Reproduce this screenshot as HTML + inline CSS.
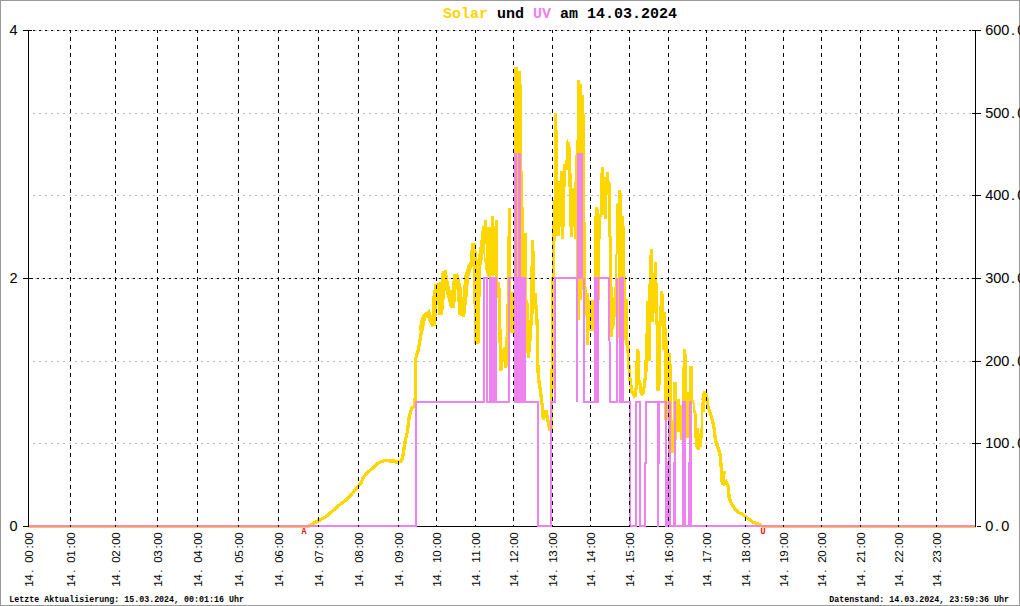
<!DOCTYPE html>
<html><head><meta charset="utf-8"><title>Solar und UV am 14.03.2024</title>
<style>html,body{margin:0;padding:0;background:#fff}body{width:1020px;height:606px;overflow:hidden;font-family:"Liberation Sans",sans-serif}svg{display:block}text{font-family:"Liberation Sans",sans-serif}.m{font-family:"Liberation Mono",monospace}</style>
</head><body>
<svg width="1020" height="606" viewBox="0 0 1020 606">
<rect x="0" y="0" width="1020" height="606" fill="#fff"/>
<g shape-rendering="crispEdges">
<rect x="0.5" y="0.5" width="1019" height="605" fill="none" stroke="#9a9a9a" stroke-width="1"/>
<line x1="28" x2="976" y1="526.5" y2="526.5" stroke="#000"/>
</g>
<g shape-rendering="crispEdges">
<line x1="33" x2="975" y1="113.5" y2="113.5" stroke="#b9b9b9" stroke-width="1" stroke-dasharray="2 4"/>
<line x1="33" x2="975" y1="195.5" y2="195.5" stroke="#b9b9b9" stroke-width="1" stroke-dasharray="2 4"/>
<line x1="33" x2="975" y1="361.5" y2="361.5" stroke="#b9b9b9" stroke-width="1" stroke-dasharray="2 4"/>
<line x1="33" x2="975" y1="443.5" y2="443.5" stroke="#b9b9b9" stroke-width="1" stroke-dasharray="2 4"/>
<line x1="35" x2="975" y1="30.5" y2="30.5" stroke="#c4c4c4" stroke-width="1" stroke-dasharray="2 4"/>
<line x1="35" x2="975" y1="278.5" y2="278.5" stroke="#c4c4c4" stroke-width="1" stroke-dasharray="2 4"/>
</g>
<g fill="none" stroke-linejoin="miter" stroke-miterlimit="2" shape-rendering="crispEdges">
<polyline points="28.0,526.5 308.0,526.5 311.0,525.0 315.0,522.5 320.0,520.0 325.8,516.7 331.7,511.7 338.3,505.8 345.0,500.8 351.7,494.0 356.7,488.3 360.8,483.3 363.3,477.5 366.7,473.3 371.7,469.0 376.7,464.0 380.8,461.7 385.8,460.5 390.0,461.0 394.0,461.0 396.7,462.5 399.0,461.7 401.7,460.8 403.3,453.3 405.0,441.7 406.7,435.0 407.5,431.0 409.2,416.7 411.7,408.3 414.2,406.7 415.8,393.3 415.8,358.3 418.3,350.0 420.0,340.0 421.7,330.0" stroke="#ffd700" stroke-width="3.3"/>
<polyline points="421.2,331.0 422.5,322.0 424.2,316.7 428.3,313.3 430.8,320.0 433.5,325.8 435.0,296.7 436.7,285.8 439.0,285.0 440.5,315.0 442.0,300.0 444.2,270.8 446.7,285.0 449.2,295.0 452.5,307.5 454.0,290.0 455.8,274.0 459.0,287.0 460.8,313.0 463.0,314.0 465.0,296.7 466.7,276.7 470.0,265.8 472.5,262.0 473.3,243.3 475.0,262.0 477.0,344.0 478.7,266.7 481.7,250.0 483.5,236.0 484.5,226.0" stroke="#ffd700" stroke-width="5"/>
<polyline points="498.5,282.0 499.0,290.0 500.8,370.8 503.0,352.0 505.0,348.0 505.8,368.0 507.5,330.0 508.5,290.0 509.5,209.0" stroke="#ffd700" stroke-width="3.3"/>
<polyline points="526.8,300.0 527.5,331.0 528.3,357.5 530.0,340.0 531.5,315.0 532.5,241.0" stroke="#ffd700" stroke-width="3.3"/>
<polyline points="535.0,293.0 536.7,316.7 537.5,331.0 537.5,355.0 538.3,376.7 540.8,393.3 542.5,408.3 543.3,420.0 545.8,410.0 547.5,418.3 549.2,426.7 550.0,431.0 551.0,428.0 551.7,400.0 552.5,346.7 553.3,263.0 554.0,235.0 554.6,200.0" stroke="#ffd700" stroke-width="3.3"/>
<polyline points="627.5,340.0 628.5,360.0 630.0,380.0 632.0,392.0 635.0,397.0 636.5,385.0 637.5,350.0" stroke="#ffd700" stroke-width="3.3"/>
<polyline points="639.5,380.0 641.0,392.0 642.6,395.0 644.5,385.0 646.0,370.0 646.5,340.0" stroke="#ffd700" stroke-width="3.3"/>
<polyline points="702.7,400.0 703.5,396.0 704.6,391.5 706.6,396.0 708.0,407.0 710.6,414.0 712.6,421.0 714.0,428.0 715.6,441.0 718.0,448.0 720.0,454.0 721.0,465.0 721.7,475.0 721.5,481.7 724.2,470.8 722.8,485.0 725.8,481.7 728.3,486.7 729.2,498.3 731.7,504.0 735.0,509.0 738.3,512.5 742.5,514.0 745.0,516.3 750.0,520.0 753.3,522.5 756.7,523.3 760.0,525.0 762.0,526.5 976.0,526.5" stroke="#ffd700" stroke-width="3.3"/>
<path d="M484.0 220.0H485.0V262.0H484.0ZM485.0 220.0H486.0V244.0H485.0ZM485.0 258.0H486.0V270.0H485.0ZM486.0 220.0H487.0V274.0H486.0ZM487.0 227.0H488.0V276.0H487.0ZM488.0 227.0H491.0V277.0H488.0ZM491.0 216.0H494.0V276.0H491.0ZM494.0 226.0H495.0V275.0H494.0ZM495.0 220.0H498.0V282.0H495.0ZM508.0 208.0H511.0V292.0H508.0ZM507.0 240.0H508.0V340.0H507.0ZM510.2 292.0H513.7V333.0H510.2ZM514.0 67.0H518.0V300.0H514.0ZM518.0 71.0H521.0V300.0H518.0ZM521.0 84.0H522.0V300.0H521.0ZM522.0 171.0H523.0V300.0H522.0ZM523.0 207.0H524.0V300.0H523.0ZM524.0 233.0H527.0V314.0H524.0ZM531.2 240.0H534.0V314.0H531.2ZM534.0 251.0H535.0V300.0H534.0ZM554.0 113.0H557.0V236.0H554.0ZM557.0 130.0H558.0V236.0H557.0ZM558.0 181.0H559.6V236.0H558.0ZM559.6 171.0H561.0V227.0H559.6ZM561.0 171.0H563.0V238.6H561.0ZM563.0 164.0H563.6V238.6H563.0ZM563.6 164.0H565.0V227.0H563.6ZM565.0 160.0H566.0V187.0H565.0ZM566.0 141.0H567.0V170.0H566.0ZM567.0 139.0H568.0V170.0H567.0ZM568.0 142.0H569.0V187.0H568.0ZM569.0 142.0H570.0V227.0H569.0ZM570.0 147.0H571.0V236.6H570.0ZM571.0 173.0H572.0V236.6H571.0ZM572.0 187.7H573.0V236.6H572.0ZM573.0 187.7H574.0V227.0H573.0ZM574.0 182.0H575.0V238.6H574.0ZM575.0 155.0H576.0V238.6H575.0ZM576.0 140.0H577.0V278.0H576.0ZM577.0 80.0H580.0V320.0H577.0ZM580.0 84.0H582.0V300.0H580.0ZM582.0 95.0H584.0V290.0H582.0ZM584.0 114.0H585.0V300.0H584.0ZM585.0 222.0H586.0V300.0H585.0ZM585.0 287.0H587.0V304.0H585.0ZM585.0 293.0H589.0V316.0H585.0ZM586.0 304.0H591.0V331.0H586.0ZM589.0 300.0H594.0V331.0H589.0ZM586.0 331.0H589.0V345.0H586.0ZM594.2 216.0H595.2V334.0H594.2ZM595.2 207.0H598.2V334.0H595.2ZM598.2 209.0H599.2V334.0H598.2ZM599.2 214.0H600.2V300.0H599.2ZM600.2 173.0H601.2V239.0H600.2ZM601.2 167.0H602.2V217.0H601.2ZM602.2 167.0H604.2V214.5H602.2ZM604.2 177.0H606.0V219.0H604.2ZM606.0 172.0H606.8V219.0H606.0ZM606.8 172.0H608.0V195.0H606.8ZM608.0 172.0H609.0V236.6H608.0ZM609.0 181.0H610.0V236.6H609.0ZM610.0 183.0H611.0V337.0H610.0ZM609.3 236.0H611.8V337.0H609.3ZM611.8 287.0H612.8V337.0H611.8ZM612.8 296.5H614.0V328.8H612.8ZM614.0 287.0H615.0V326.0H614.0ZM615.0 253.7H615.8V317.0H615.0ZM616.0 203.8H617.3V338.0H616.0ZM617.3 203.0H618.3V253.7H617.3ZM618.3 190.0H620.8V338.0H618.3ZM617.8 278.0H618.8V338.0H617.8ZM620.8 193.0H621.8V338.0H620.8ZM621.8 216.4H623.8V338.0H621.8ZM623.8 226.0H625.0V340.0H623.8ZM625.0 276.0H626.0V345.0H625.0ZM626.0 299.0H628.0V353.0H626.0ZM636.0 349.0H639.0V385.0H636.0ZM639.0 351.0H640.0V390.0H639.0ZM645.0 333.0H646.0V372.0H645.0ZM646.0 301.0H648.0V372.0H646.0ZM648.0 284.0H649.0V361.0H648.0ZM649.0 255.0H650.0V361.0H649.0ZM650.0 249.0H651.2V361.0H650.0ZM651.2 249.0H653.0V322.0H651.2ZM653.0 272.8H654.0V322.0H653.0ZM654.0 262.0H655.0V313.0H654.0ZM655.0 262.0H656.0V325.0H655.0ZM656.0 262.0H657.0V391.0H656.0ZM657.0 283.0H658.0V391.0H657.0ZM658.0 321.0H659.3V391.0H658.0ZM659.3 306.0H660.0V391.0H659.3ZM660.0 291.0H660.8V385.0H660.0ZM660.8 291.0H662.3V326.0H660.8ZM662.3 291.0H662.8V350.0H662.3ZM662.8 294.3H664.0V350.0H662.8ZM664.0 312.0H665.7V420.0H664.0ZM665.7 328.0H667.0V420.0H665.7ZM667.0 340.0H668.3V420.0H667.0ZM668.3 353.0H671.0V453.0H668.3ZM671.0 364.0H672.0V453.0H671.0ZM672.0 420.0H674.0V452.7H672.0ZM673.4 382.0H677.0V440.0H673.4ZM677.0 399.0H680.0V432.0H677.0ZM680.0 405.0H681.5V440.0H680.0ZM681.5 381.0H682.4V440.0H681.5ZM682.4 367.0H683.0V440.0H682.4ZM683.0 349.0H686.0V437.6H683.0ZM686.0 354.0H687.0V437.6H686.0ZM687.0 391.7H689.0V437.6H687.0ZM689.0 366.0H692.5V404.0H689.0ZM692.5 400.0H694.0V413.0H692.5ZM694.0 403.0H695.0V438.0H694.0ZM695.0 410.0H696.0V446.6H695.0ZM696.0 413.0H697.0V449.0H696.0ZM697.0 428.0H699.0V449.6H697.0ZM699.0 433.0H700.0V449.6H699.0ZM700.0 428.0H701.0V446.6H700.0ZM701.0 402.0H702.0V446.6H701.0ZM702.0 395.0H703.0V438.0H702.0ZM703.0 392.0H706.0V402.0H703.0ZM702.0 396.0H705.0V412.0H702.0Z" fill="#ffd700" stroke="none"/>
</g>
<g shape-rendering="crispEdges">
<line x1="33" x2="975" y1="30.5" y2="30.5" stroke="#000" stroke-width="1" stroke-dasharray="2 4"/>
<line x1="37" x2="975" y1="278.5" y2="278.5" stroke="#000" stroke-width="1" stroke-dasharray="2 4"/>
</g>
<g fill="none" stroke-linejoin="miter" stroke-miterlimit="2" shape-rendering="crispEdges">
<polyline points="28.0,526.0 416.0,526.0 416.0,402.0 484.0,402.0 484.0,278.0 487.0,278.0 487.0,402.0 489.0,402.0" stroke="#ee82ee" stroke-width="2"/>
<polyline points="497.0,402.0 509.0,402.0 509.0,278.0 514.0,278.0" stroke="#ee82ee" stroke-width="2"/>
<polyline points="526.0,402.0 538.0,402.0 538.0,526.0 551.0,526.0 551.0,402.0 555.0,402.0 555.0,278.0 577.0,278.0" stroke="#ee82ee" stroke-width="2"/>
<polyline points="577.0,278.0 577.0,402.0" stroke="#ee82ee" stroke-width="2"/>
<polyline points="584.0,278.0 584.0,402.0 594.2,402.0" stroke="#ee82ee" stroke-width="2"/>
<polyline points="599.0,278.0 609.0,278.0 610.0,402.0 617.0,402.0 617.0,278.0" stroke="#ee82ee" stroke-width="2"/>
<polyline points="624.0,402.0 630.0,402.0 630.0,526.0 636.3,526.0 636.3,402.0 640.3,402.0 640.3,526.0 645.0,526.0 645.0,463.0 646.2,463.0 646.2,402.0 658.5,402.0" stroke="#ee82ee" stroke-width="2"/>
<polyline points="659.5,402.0 666.0,402.0" stroke="#ee82ee" stroke-width="2"/>
<polyline points="671.0,526.0 674.0,526.0" stroke="#ee82ee" stroke-width="2"/>
<polyline points="675.4,526.0 682.0,526.0" stroke="#ee82ee" stroke-width="2"/>
<polyline points="686.0,526.0 688.5,526.0" stroke="#ee82ee" stroke-width="2"/>
<polyline points="691.5,526.0 976.0,526.0" stroke="#ee82ee" stroke-width="2"/>
<path d="M489.0 277.0H497.0V403.0H489.0ZM514.0 153.0H517.0V403.0H514.0ZM518.0 153.0H521.0V403.0H518.0ZM517.0 277.0H518.0V403.0H517.0ZM521.0 277.0H526.0V403.0H521.0ZM577.0 153.0H583.0V279.0H577.0ZM594.2 277.0H599.0V403.0H594.2ZM618.8 277.0H624.0V403.0H618.8ZM657.0 401.0H660.0V464.0H657.0ZM657.0 462.0H659.0V527.0H657.0ZM665.0 401.0H667.0V464.0H665.0ZM665.0 462.0H668.0V527.0H665.0ZM668.0 401.0H671.0V527.0H668.0ZM674.0 401.0H676.0V464.0H674.0ZM673.0 462.0H675.6V527.0H673.0ZM682.0 401.0H686.0V527.0H682.0ZM689.0 401.0H692.0V464.0H689.0ZM688.3 462.0H691.5V527.0H688.3Z" fill="#ee82ee" stroke="none"/>
</g>
<g shape-rendering="crispEdges">
<line x1="70.5" x2="70.5" y1="30" y2="33" stroke="#000" stroke-width="1"/>
<line x1="70.5" x2="70.5" y1="37" y2="527" stroke="#000" stroke-width="1" stroke-dasharray="4 4"/>
<line x1="115.5" x2="115.5" y1="30" y2="33" stroke="#000" stroke-width="1"/>
<line x1="115.5" x2="115.5" y1="37" y2="527" stroke="#000" stroke-width="1" stroke-dasharray="4 4"/>
<line x1="157.5" x2="157.5" y1="30" y2="33" stroke="#000" stroke-width="1"/>
<line x1="157.5" x2="157.5" y1="37" y2="527" stroke="#000" stroke-width="1" stroke-dasharray="4 4"/>
<line x1="197.5" x2="197.5" y1="30" y2="33" stroke="#000" stroke-width="1"/>
<line x1="197.5" x2="197.5" y1="37" y2="527" stroke="#000" stroke-width="1" stroke-dasharray="4 4"/>
<line x1="238.5" x2="238.5" y1="30" y2="33" stroke="#000" stroke-width="1"/>
<line x1="238.5" x2="238.5" y1="37" y2="527" stroke="#000" stroke-width="1" stroke-dasharray="4 4"/>
<line x1="278.5" x2="278.5" y1="30" y2="33" stroke="#000" stroke-width="1"/>
<line x1="278.5" x2="278.5" y1="37" y2="527" stroke="#000" stroke-width="1" stroke-dasharray="4 4"/>
<line x1="318.5" x2="318.5" y1="30" y2="33" stroke="#000" stroke-width="1"/>
<line x1="318.5" x2="318.5" y1="37" y2="527" stroke="#000" stroke-width="1" stroke-dasharray="4 4"/>
<line x1="358.5" x2="358.5" y1="30" y2="33" stroke="#000" stroke-width="1"/>
<line x1="358.5" x2="358.5" y1="37" y2="527" stroke="#000" stroke-width="1" stroke-dasharray="4 4"/>
<line x1="398.5" x2="398.5" y1="30" y2="33" stroke="#000" stroke-width="1"/>
<line x1="398.5" x2="398.5" y1="37" y2="527" stroke="#000" stroke-width="1" stroke-dasharray="4 4"/>
<line x1="436.5" x2="436.5" y1="30" y2="33" stroke="#000" stroke-width="1"/>
<line x1="436.5" x2="436.5" y1="37" y2="527" stroke="#000" stroke-width="1" stroke-dasharray="4 4"/>
<line x1="475.5" x2="475.5" y1="30" y2="33" stroke="#000" stroke-width="1"/>
<line x1="475.5" x2="475.5" y1="37" y2="527" stroke="#000" stroke-width="1" stroke-dasharray="4 4"/>
<line x1="513.5" x2="513.5" y1="30" y2="33" stroke="#000" stroke-width="1"/>
<line x1="513.5" x2="513.5" y1="37" y2="527" stroke="#000" stroke-width="1" stroke-dasharray="4 4"/>
<line x1="552.5" x2="552.5" y1="30" y2="33" stroke="#000" stroke-width="1"/>
<line x1="552.5" x2="552.5" y1="37" y2="527" stroke="#000" stroke-width="1" stroke-dasharray="4 4"/>
<line x1="590.5" x2="590.5" y1="30" y2="33" stroke="#000" stroke-width="1"/>
<line x1="590.5" x2="590.5" y1="37" y2="527" stroke="#000" stroke-width="1" stroke-dasharray="4 4"/>
<line x1="629.5" x2="629.5" y1="30" y2="33" stroke="#000" stroke-width="1"/>
<line x1="629.5" x2="629.5" y1="37" y2="527" stroke="#000" stroke-width="1" stroke-dasharray="4 4"/>
<line x1="668.5" x2="668.5" y1="30" y2="33" stroke="#000" stroke-width="1"/>
<line x1="668.5" x2="668.5" y1="37" y2="527" stroke="#000" stroke-width="1" stroke-dasharray="4 4"/>
<line x1="706.5" x2="706.5" y1="30" y2="33" stroke="#000" stroke-width="1"/>
<line x1="706.5" x2="706.5" y1="37" y2="527" stroke="#000" stroke-width="1" stroke-dasharray="4 4"/>
<line x1="745.5" x2="745.5" y1="30" y2="33" stroke="#000" stroke-width="1"/>
<line x1="745.5" x2="745.5" y1="37" y2="527" stroke="#000" stroke-width="1" stroke-dasharray="4 4"/>
<line x1="783.5" x2="783.5" y1="30" y2="33" stroke="#000" stroke-width="1"/>
<line x1="783.5" x2="783.5" y1="37" y2="527" stroke="#000" stroke-width="1" stroke-dasharray="4 4"/>
<line x1="821.5" x2="821.5" y1="30" y2="33" stroke="#000" stroke-width="1"/>
<line x1="821.5" x2="821.5" y1="37" y2="527" stroke="#000" stroke-width="1" stroke-dasharray="4 4"/>
<line x1="860.5" x2="860.5" y1="30" y2="33" stroke="#000" stroke-width="1"/>
<line x1="860.5" x2="860.5" y1="37" y2="527" stroke="#000" stroke-width="1" stroke-dasharray="4 4"/>
<line x1="898.5" x2="898.5" y1="30" y2="33" stroke="#000" stroke-width="1"/>
<line x1="898.5" x2="898.5" y1="37" y2="527" stroke="#000" stroke-width="1" stroke-dasharray="4 4"/>
<line x1="936.5" x2="936.5" y1="30" y2="33" stroke="#000" stroke-width="1"/>
<line x1="936.5" x2="936.5" y1="37" y2="527" stroke="#000" stroke-width="1" stroke-dasharray="4 4"/>
<line x1="28.5" x2="28.5" y1="30" y2="527" stroke="#000"/>
<line x1="975.5" x2="975.5" y1="30" y2="527" stroke="#000"/>
<line x1="23" x2="32" y1="30.5" y2="30.5" stroke="#000"/>
<line x1="23" x2="33" y1="278.5" y2="278.5" stroke="#000"/>
<line x1="23" x2="29" y1="526.5" y2="526.5" stroke="#000"/>
<line x1="972" x2="981" y1="30.5" y2="30.5" stroke="#000"/>
<line x1="972" x2="981" y1="113.5" y2="113.5" stroke="#000"/>
<line x1="972" x2="981" y1="195.5" y2="195.5" stroke="#000"/>
<line x1="972" x2="981" y1="278.5" y2="278.5" stroke="#000"/>
<line x1="972" x2="981" y1="361.5" y2="361.5" stroke="#000"/>
<line x1="972" x2="981" y1="443.5" y2="443.5" stroke="#000"/>
<line x1="977" x2="981" y1="526.5" y2="526.5" stroke="#000"/>
</g>
<g font-size="14.5" fill="#000">
<text x="17.6" y="35" text-anchor="end">4</text>
<text x="17.6" y="283" text-anchor="end">2</text>
<text x="17.6" y="531" text-anchor="end">0</text>
<text x="985.3 993.3 1001.3 1010.9 1017.3" y="35">600.0</text>
<text x="985.3 993.3 1001.3 1010.9 1017.3" y="118">500.0</text>
<text x="985.3 993.3 1001.3 1010.9 1017.3" y="200">400.0</text>
<text x="985.3 993.3 1001.3 1010.9 1017.3" y="283">300.0</text>
<text x="985.3 993.3 1001.3 1010.9 1017.3" y="366">200.0</text>
<text x="985.3 993.3 1001.3 1010.9 1017.3" y="448">100.0</text>
<text x="985.3 994.9 1001.3" y="531">0.0</text>
</g>
<g font-size="11.5" fill="#000">
<text transform="translate(33.2,587) rotate(-90)" x="0.2 6.2 14.3 18.2 24.2 30.2 38.5 42.2 48.2" y="0">14. 00:00</text>
<text transform="translate(75.2,587) rotate(-90)" x="0.2 6.2 14.3 18.2 24.2 30.2 38.5 42.2 48.2" y="0">14. 01:00</text>
<text transform="translate(120.2,587) rotate(-90)" x="0.2 6.2 14.3 18.2 24.2 30.2 38.5 42.2 48.2" y="0">14. 02:00</text>
<text transform="translate(162.2,587) rotate(-90)" x="0.2 6.2 14.3 18.2 24.2 30.2 38.5 42.2 48.2" y="0">14. 03:00</text>
<text transform="translate(202.2,587) rotate(-90)" x="0.2 6.2 14.3 18.2 24.2 30.2 38.5 42.2 48.2" y="0">14. 04:00</text>
<text transform="translate(243.2,587) rotate(-90)" x="0.2 6.2 14.3 18.2 24.2 30.2 38.5 42.2 48.2" y="0">14. 05:00</text>
<text transform="translate(283.2,587) rotate(-90)" x="0.2 6.2 14.3 18.2 24.2 30.2 38.5 42.2 48.2" y="0">14. 06:00</text>
<text transform="translate(323.2,587) rotate(-90)" x="0.2 6.2 14.3 18.2 24.2 30.2 38.5 42.2 48.2" y="0">14. 07:00</text>
<text transform="translate(363.2,587) rotate(-90)" x="0.2 6.2 14.3 18.2 24.2 30.2 38.5 42.2 48.2" y="0">14. 08:00</text>
<text transform="translate(403.2,587) rotate(-90)" x="0.2 6.2 14.3 18.2 24.2 30.2 38.5 42.2 48.2" y="0">14. 09:00</text>
<text transform="translate(441.2,587) rotate(-90)" x="0.2 6.2 14.3 18.2 24.2 30.2 38.5 42.2 48.2" y="0">14. 10:00</text>
<text transform="translate(480.2,587) rotate(-90)" x="0.2 6.2 14.3 18.2 24.2 30.2 38.5 42.2 48.2" y="0">14. 11:00</text>
<text transform="translate(518.2,587) rotate(-90)" x="0.2 6.2 14.3 18.2 24.2 30.2 38.5 42.2 48.2" y="0">14. 12:00</text>
<text transform="translate(557.2,587) rotate(-90)" x="0.2 6.2 14.3 18.2 24.2 30.2 38.5 42.2 48.2" y="0">14. 13:00</text>
<text transform="translate(595.2,587) rotate(-90)" x="0.2 6.2 14.3 18.2 24.2 30.2 38.5 42.2 48.2" y="0">14. 14:00</text>
<text transform="translate(634.2,587) rotate(-90)" x="0.2 6.2 14.3 18.2 24.2 30.2 38.5 42.2 48.2" y="0">14. 15:00</text>
<text transform="translate(673.2,587) rotate(-90)" x="0.2 6.2 14.3 18.2 24.2 30.2 38.5 42.2 48.2" y="0">14. 16:00</text>
<text transform="translate(711.2,587) rotate(-90)" x="0.2 6.2 14.3 18.2 24.2 30.2 38.5 42.2 48.2" y="0">14. 17:00</text>
<text transform="translate(750.2,587) rotate(-90)" x="0.2 6.2 14.3 18.2 24.2 30.2 38.5 42.2 48.2" y="0">14. 18:00</text>
<text transform="translate(788.2,587) rotate(-90)" x="0.2 6.2 14.3 18.2 24.2 30.2 38.5 42.2 48.2" y="0">14. 19:00</text>
<text transform="translate(826.2,587) rotate(-90)" x="0.2 6.2 14.3 18.2 24.2 30.2 38.5 42.2 48.2" y="0">14. 20:00</text>
<text transform="translate(865.2,587) rotate(-90)" x="0.2 6.2 14.3 18.2 24.2 30.2 38.5 42.2 48.2" y="0">14. 21:00</text>
<text transform="translate(903.2,587) rotate(-90)" x="0.2 6.2 14.3 18.2 24.2 30.2 38.5 42.2 48.2" y="0">14. 22:00</text>
<text transform="translate(941.2,587) rotate(-90)" x="0.2 6.2 14.3 18.2 24.2 30.2 38.5 42.2 48.2" y="0">14. 23:00</text>
</g>
<text class="m" font-size="15" font-weight="bold" x="443" y="18" xml:space="preserve"><tspan fill="#ffd400">Solar</tspan> und <tspan fill="#ee82ee">UV</tspan> am 14.03.2024</text>
<g class="m" font-size="9.2" font-weight="bold" fill="#000">
<text class="m" transform="translate(9.3,601.7) scale(0.9058,1)">Letzte Aktualisierung: 15.03.2024, 00:01:16 Uhr</text>
<text class="m" transform="translate(829.3,601.7) scale(0.9058,1)">Datenstand: 14.03.2024, 23:59:36 Uhr</text>
</g>
<g class="m" font-size="8.33" font-weight="bold" fill="#ff0000">
<text class="m" transform="translate(301.6,534) scale(1,1.12)">A</text>
<text class="m" transform="translate(760.5,534) scale(1,1.12)">U</text>
</g>
</svg></body></html>
